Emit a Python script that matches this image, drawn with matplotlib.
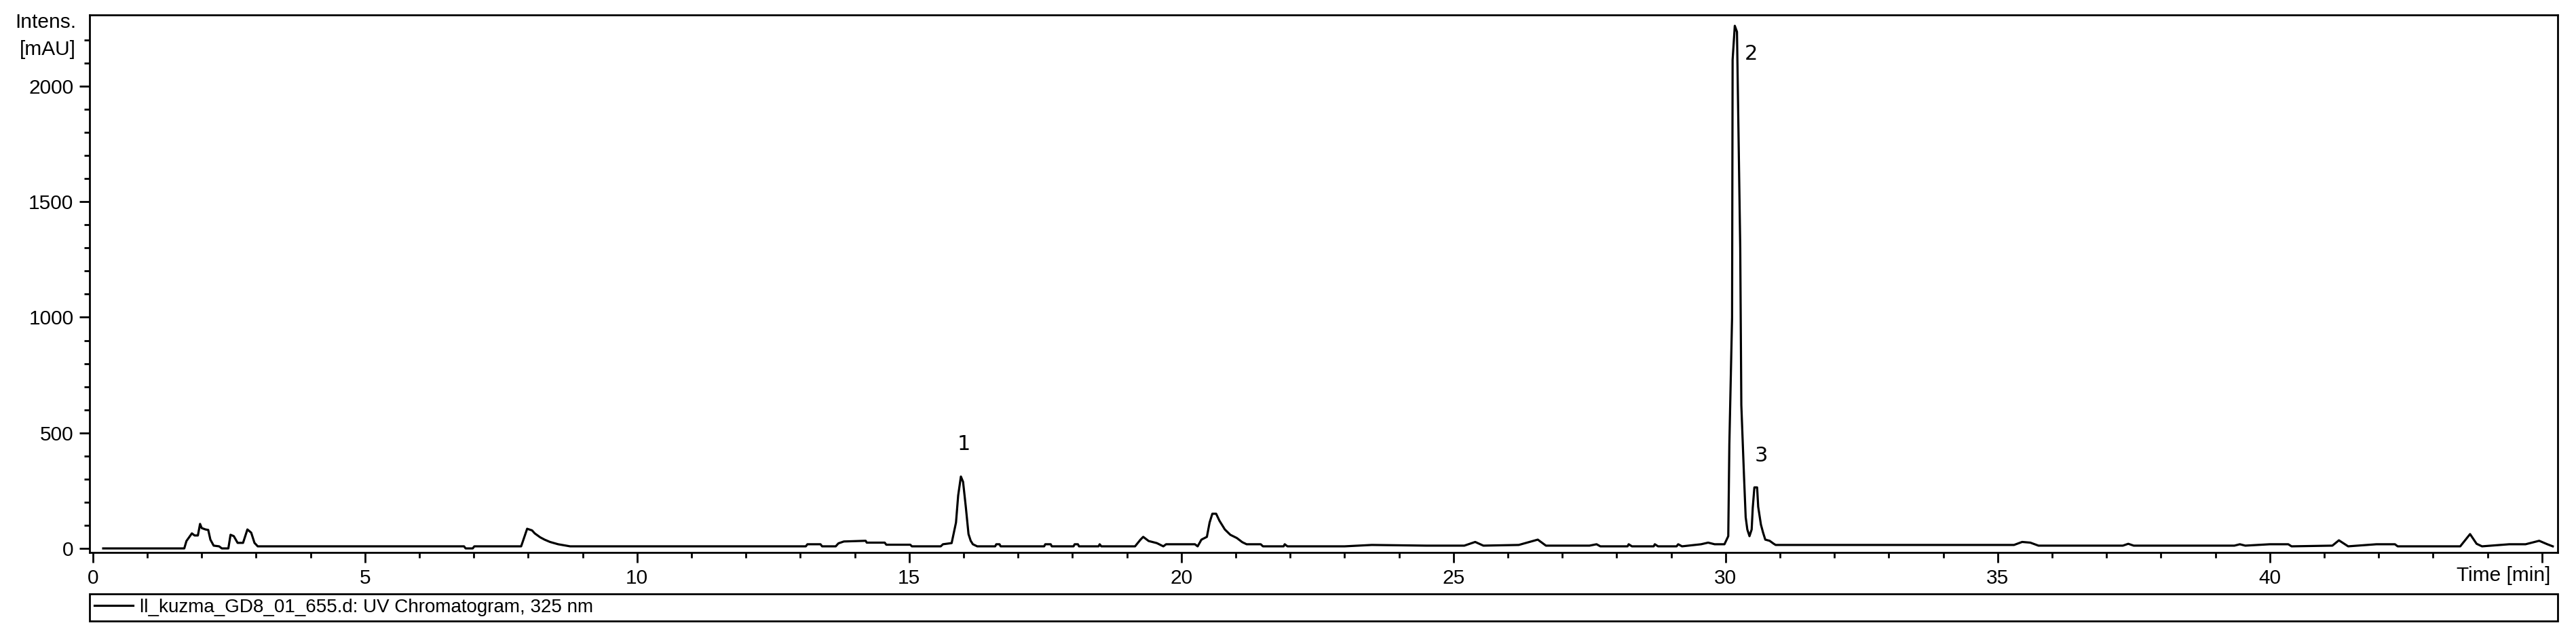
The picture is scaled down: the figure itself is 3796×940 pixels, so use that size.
import matplotlib
matplotlib.use("Agg")
import matplotlib.pyplot as plt
from matplotlib.ticker import MultipleLocator

plt.rcParams['font.family'] = ['Liberation Sans', 'DejaVu Sans']

# UV chromatogram, 325 nm
time_min = [
    0.19, 1.68, 1.72, 1.82, 1.87, 1.93, 1.97, 2.00, 2.07, 2.12, 2.16, 2.22, 2.32,
    2.37, 2.49, 2.53, 2.59, 2.66, 2.76, 2.84, 2.91, 2.97, 3.03, 6.82, 6.85, 6.98,
    7.01, 7.87, 7.98, 8.07, 8.12, 8.22, 8.30, 8.40, 8.55, 8.77, 13.10, 13.13, 13.37,
    13.40, 13.65, 13.70, 13.80, 14.20, 14.22, 14.55, 14.58, 15.02, 15.05, 15.58,
    15.62, 15.78, 15.86, 15.90, 15.95, 15.99, 16.04, 16.09, 16.13, 16.17, 16.25,
    16.58, 16.60, 16.66, 16.68, 17.48, 17.50, 17.60, 17.62, 18.02, 18.04, 18.10,
    18.12, 18.48, 18.50, 18.53, 19.15, 19.25, 19.30, 19.40, 19.55, 19.67, 19.72,
    20.25, 20.30, 20.37, 20.47, 20.52, 20.57, 20.64, 20.70, 20.80, 20.90, 21.02,
    21.12, 21.20, 21.46, 21.50, 21.88, 21.90, 21.95, 23.00, 23.50, 24.50, 25.20,
    25.40, 25.55, 26.20, 26.55, 26.70, 27.50, 27.63, 27.70, 28.20, 28.22, 28.28,
    28.68, 28.70, 28.76, 29.10, 29.13, 29.20, 29.55, 29.68, 29.80, 29.98, 30.05,
    30.07, 30.12, 30.13, 30.17, 30.21, 30.24, 30.27, 30.29, 30.34, 30.37, 30.40,
    30.44, 30.48, 30.50, 30.53, 30.58, 30.60, 30.65, 30.69, 30.73, 30.81, 30.88,
    30.92, 35.30, 35.45, 35.60, 35.75, 37.30, 37.40, 37.50, 39.35, 39.45, 39.55,
    40.00, 40.34, 40.40, 41.15, 41.27, 41.44, 41.96, 42.30, 42.35, 43.50, 43.68,
    43.80, 43.90, 44.40, 44.70, 44.95, 45.10, 45.20,
]
intensity_mau = [
    0, 0, 32, 65, 56, 56, 106, 88, 82, 80, 38, 12, 9,
    0, 0, 59, 53, 24, 24, 82, 68, 24, 9, 9, 0, 0,
    9, 9, 85, 78, 65, 48, 38, 28, 18, 9, 9, 18, 18,
    9, 9, 22, 30, 33, 25, 25, 16, 16, 9, 9,
    18, 23, 112, 229, 311, 288, 180, 62, 33, 18, 9,
    9, 18, 18, 9, 9, 18, 18, 9, 9, 18, 18,
    9, 9, 18, 9, 9, 38, 50, 32, 23, 9, 18,
    18, 9, 38, 50, 112, 150, 150, 120, 82, 59, 45,
    27, 18, 18, 9, 9, 18, 9, 9, 15, 12, 12,
    28, 12, 15, 38, 12, 12, 18, 9, 9, 18, 9,
    9, 18, 9, 9, 18, 9, 18, 25, 18, 18, 53,
    450, 1000, 2114, 2261, 2235, 1765, 1300, 620, 308, 135, 82,
    53, 82, 176, 264, 264, 180, 103, 68, 38, 33, 21,
    15, 15, 28, 25, 12, 12, 20, 12, 12, 18, 12,
    18, 18, 9, 12, 35, 9, 18, 18, 9, 9, 62,
    20, 9, 18, 18, 33, 18, 9,
]

peak_numbers = ['1', '2', '3']
peak_label_t = [16.01, 30.47, 30.65]
peak_label_i = [450, 2138, 400]

fig = plt.figure(figsize=(37.96, 9.40), dpi=100)
ax = fig.add_axes([132 / 3796, 1 - 814 / 940, (3769 - 132) / 3796, (814 - 22) / 940])

ax.plot(time_min, intensity_mau, color='black', lw=2.3,
        label='ll_kuzma_GD8_01_655.d: UV Chromatogram, 325 nm')

for s in ax.spines.values():
    s.set_linewidth(2.0)

ax.set_xlim(-0.06, 45.29)
ax.set_ylim(-17.6, 2308)

ax.set_xticks(range(0, 46, 5))
ax.set_xticklabels([str(v) for v in range(0, 41, 5)] + [''])
ax.xaxis.set_minor_locator(MultipleLocator(1))
ax.set_yticks([0, 500, 1000, 1500, 2000])
ax.set_yticks(range(0, 2201, 100), minor=True)
ax.tick_params(axis='both', which='major', direction='out', length=11, width=2.0,
               labelsize=21.5, pad=6)
ax.tick_params(axis='both', which='minor', direction='out', length=5.5, width=2.0)

# axis titles the way the instrument software places them
fig.text(112 / 3796, 1 - 33 / 940, 'Intens.', ha='right', va='center', fontsize=21.5)
fig.text(112 / 3796, 1 - 73 / 940, '[mAU]', ha='right', va='center', fontsize=21.5)
ax.annotate('Time [min]', xy=(1, 0), xycoords='axes fraction', xytext=(-8, -14.5),
            textcoords='offset points', ha='right', va='top', fontsize=21.5)

for lab, t, i in zip(peak_numbers, peak_label_t, peak_label_i):
    ax.text(t, i, lab, ha='center', va='center', fontsize=22, family='DejaVu Sans')

leg = ax.legend(loc='upper left', bbox_to_anchor=(0, -61 / 792, 1, 0), mode='expand',
                borderaxespad=0, fancybox=False, edgecolor='black', framealpha=1,
                fontsize=20, handlelength=2.05, handletextpad=0.36, borderpad=0.25)
leg.get_frame().set_linewidth(2.0)

fig.savefig('out.png', dpi=100)
